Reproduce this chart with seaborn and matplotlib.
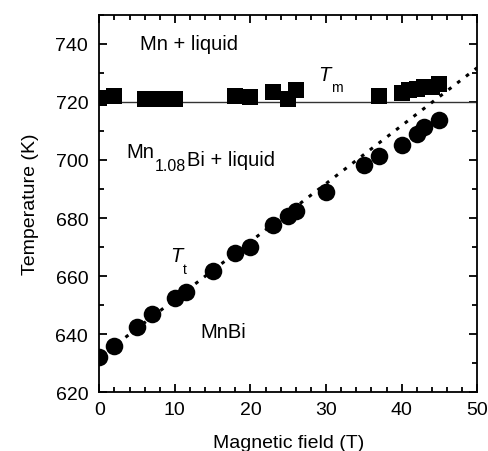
import numpy as np
import pandas as pd
import seaborn as sns
import matplotlib.pyplot as plt
from matplotlib.ticker import MultipleLocator

# melting point T_m (squares)
tm_field = [0, 2, 6, 7, 8, 10, 18, 20, 23, 25, 26, 37, 40, 41, 42, 43, 44, 45]
tm_temp = [721.3, 722.2, 721.0, 721.0, 721.0, 721.0, 722.2, 721.8, 723.4, 721.0, 724.0,
           722.2, 723.2, 724.0, 724.6, 725.0, 725.2, 726.0]

# transition T_t (circles)
tt_field = [0, 2, 5, 7, 10, 11.5, 15, 18, 20, 23, 25, 26, 30, 35, 37, 40, 42, 43, 45]
tt_temp = [632.0, 636.0, 642.5, 647.0, 652.6, 654.5, 661.7, 668.0, 670.0, 677.6, 680.8,
           682.5, 688.9, 698.3, 701.4, 705.2, 708.8, 711.2, 713.8]

# dotted guide line and horizontal line at 720 K
guide_field = [0, 50]
guide_temp = [632.0, 731.8]
tm_zero = 720

sns.set_theme(style='ticks', rc={'text.color': 'black', 'axes.labelcolor': 'black',
                                 'xtick.color': 'black', 'ytick.color': 'black',
                                 'axes.edgecolor': 'black'})
plt.rcParams['font.family'] = ['Liberation Sans', 'DejaVu Sans']

fig, ax = plt.subplots(figsize=(4.89, 4.52), dpi=100)
fig.subplots_adjust(left=0.203, right=0.976, top=0.965, bottom=0.13)

ax.axhline(tm_zero, color='#333333', lw=1.0, zorder=1)
sns.lineplot(x=guide_field, y=guide_temp, ax=ax, color='black', lw=2.2,
             linestyle=(0, (1.2, 2.4)), zorder=2)
sns.scatterplot(x=tm_field, y=tm_temp, ax=ax, marker='s', s=125, color='black',
                edgecolor='black', linewidth=0, zorder=3)
sns.scatterplot(x=tt_field, y=tt_temp, ax=ax, marker='o', s=160, color='black',
                edgecolor='black', linewidth=0, zorder=3)

ax.set_xlim(0, 50)
ax.set_ylim(620, 750)
ax.xaxis.set_major_locator(MultipleLocator(10))
ax.xaxis.set_minor_locator(MultipleLocator(2))
ax.yaxis.set_major_locator(MultipleLocator(20))
ax.yaxis.set_minor_locator(MultipleLocator(10))
ax.tick_params(which='both', direction='in', top=True, right=True, width=1.3,
               labelsize=14, colors='black', pad=6)
ax.tick_params(axis='y', which='both', pad=8)
ax.tick_params(which='major', length=6)
ax.tick_params(which='minor', length=3.5)
ax.set_yticks([620, 640, 660, 680, 700, 720, 740])
for sp in ax.spines.values():
    sp.set_linewidth(1.3)
    sp.set_visible(True)

ax.set_xlabel('Magnetic field (T)', fontsize=14, labelpad=12)
ax.set_ylabel('Temperature (K)', fontsize=14, labelpad=12)

ax.text(5.4, 740, 'Mn + liquid', fontsize=14.5, va='center')

# Mn_1.08 Bi + liquid with a deep subscript
mn = ax.text(3.65, 702.8, 'Mn', fontsize=14.5, va='center')
sub = ax.annotate('1.08', xy=(1, 0), xycoords=mn, xytext=(0.2, -3.0),
                  textcoords='offset points', fontsize=11.5, va='center')
ax.annotate('Bi + liquid', xy=(1, 0), xycoords=sub, xytext=(0.2, 3.0),
            textcoords='offset points', fontsize=14.5, va='bottom')

tm = ax.text(29.0, 729.6, 'T', fontsize=14.5, style='italic', va='center')
ax.annotate('m', xy=(1, 0), xycoords=tm, xytext=(0.5, -2.5),
            textcoords='offset points', fontsize=10, va='center')
tt = ax.text(9.4, 667, 'T', fontsize=14.5, style='italic', va='center')
ax.annotate('t', xy=(1, 0), xycoords=tt, xytext=(0.5, -2.5),
            textcoords='offset points', fontsize=10, va='center')
ax.text(13.4, 641, 'MnBi', fontsize=14.5, va='center')

fig.savefig('out.png', dpi=100)
